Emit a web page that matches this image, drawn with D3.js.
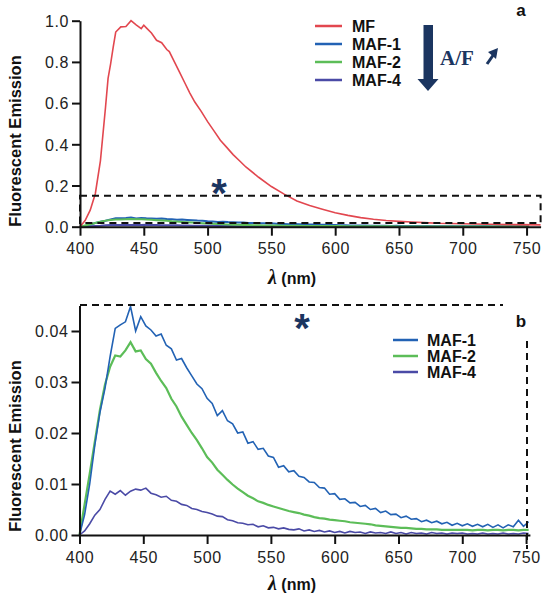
<!DOCTYPE html>
<html><head><meta charset="utf-8">
<script src="https://cdn.jsdelivr.net/npm/d3@7"></script>
<style>body{margin:0;background:#fff;} svg{display:block;}</style>
</head><body>
<script>
// ---------- DATA ----------
const mfWavelength = [400,404,408,412,416,420,422,424,426,428,432,436,440,444,448,450,452,456,460,464,468,470,474,478,482,486,490,495,500,505,510,515,520,525,530,540,550,560,570,580,590,600,610,620,630,640,650,660,670,680,700,720,740,761];
const mfValues = [0,0.03,0.08,0.16,0.32,0.58,0.72,0.79,0.87,0.945,0.97,0.972,1.0,0.98,0.962,0.978,0.965,0.94,0.905,0.893,0.86,0.85,0.8,0.75,0.70,0.65,0.605,0.56,0.51,0.465,0.42,0.385,0.35,0.32,0.29,0.24,0.195,0.158,0.125,0.103,0.085,0.068,0.055,0.044,0.036,0.030,0.026,0.023,0.020,0.017,0.014,0.012,0.010,0.009];

const mafWavelength = [400,404,408,412,416,420,424,428,432,436,440,444,448,452,456,460,464,468,472,476,480,484,488,492,496,500,504,508,512,516,520,524,528,532,536,540,544,548,552,556,560,564,568,572,576,580,584,588,592,596,600,604,608,612,616,620,624,628,632,636,640,644,648,652,656,660,664,668,672,676,680,684,688,692,696,700,704,708,712,716,720,724,728,732,736,740,744,748,752];
const maf1Values = [0.000,0.004,0.010,0.0176,0.024,0.0288,0.0350,0.0405,0.0412,0.0418,0.0448,0.0400,0.0428,0.0410,0.0402,0.0390,0.0394,0.0372,0.0365,0.0343,0.0346,0.0328,0.0312,0.0296,0.0287,0.0268,0.0258,0.0234,0.0244,0.0224,0.0218,0.0200,0.0202,0.0180,0.0183,0.0168,0.0170,0.0155,0.0152,0.0133,0.0136,0.0124,0.0126,0.0115,0.0113,0.0104,0.0103,0.0093,0.0092,0.0080,0.0081,0.0070,0.0071,0.0063,0.0064,0.0056,0.0058,0.0050,0.0052,0.0044,0.0047,0.0040,0.0041,0.0034,0.0037,0.0031,0.0032,0.0026,0.0029,0.0024,0.0027,0.0022,0.0025,0.0019,0.0023,0.0018,0.0022,0.0017,0.0021,0.0016,0.0021,0.0015,0.0020,0.0014,0.0020,0.0016,0.0029,0.0017,0.0026];
const maf2Values = [0.000,0.006,0.012,0.0183,0.0245,0.0295,0.0330,0.0352,0.0350,0.0362,0.0378,0.0360,0.0362,0.0345,0.0336,0.0318,0.0302,0.0288,0.0267,0.0252,0.0232,0.0216,0.0200,0.0186,0.0170,0.0153,0.0142,0.0128,0.0118,0.0108,0.0099,0.0091,0.0084,0.0077,0.0072,0.0066,0.0063,0.0059,0.0056,0.0053,0.0050,0.0047,0.0045,0.0043,0.0040,0.0038,0.0035,0.0033,0.0032,0.0030,0.0029,0.0028,0.0027,0.0025,0.0024,0.0023,0.0022,0.0021,0.0019,0.0018,0.0017,0.0016,0.0015,0.0014,0.0014,0.0013,0.0012,0.0012,0.0011,0.0011,0.0011,0.0010,0.0010,0.0010,0.0010,0.0010,0.0010,0.0009,0.0010,0.0010,0.0009,0.0010,0.0010,0.0009,0.0010,0.0010,0.0009,0.0010,0.0010];
const maf4Values = [0.0000,0.0008,0.0022,0.0039,0.0050,0.0070,0.0086,0.0080,0.0087,0.0078,0.0086,0.0090,0.0088,0.0092,0.0082,0.0079,0.0074,0.0076,0.0068,0.0066,0.0060,0.0058,0.0052,0.0050,0.0046,0.0044,0.0041,0.0037,0.0036,0.0030,0.0028,0.0024,0.0023,0.0020,0.0021,0.0016,0.0018,0.0014,0.0015,0.0012,0.0014,0.0011,0.0010,0.0012,0.0008,0.0010,0.0007,0.0009,0.0006,0.0008,0.0005,0.0007,0.0004,0.0007,0.0005,0.0006,0.0003,0.0006,0.0004,0.0005,0.0003,0.0006,0.0003,0.0005,0.0002,0.0005,0.0003,0.0004,0.0002,0.0005,0.0003,0.0004,0.0002,0.0004,0.0003,0.0004,0.0002,0.0003,0.0002,0.0004,0.0002,0.0003,0.0002,0.0004,0.0002,0.0003,0.0002,0.0004,0.0003];

const xTicks = [400,450,500,550,600,650,700,750];
const yTicksA = [0,0.2,0.4,0.6,0.8,1.0];
const yTicksB = [0,0.01,0.02,0.03,0.04];
const legendA = ["MF","MAF-1","MAF-2","MAF-4"];
const legendB = ["MAF-1","MAF-2","MAF-4"];
const colors = {"MF":"#e2474f","MAF-1":"#2262b4","MAF-2":"#5cbd58","MAF-4":"#4a4aa6"};
const navy = "#1b3560";

// ---------- DRAW ----------
const svg = d3.select("body").append("svg").attr("width",546).attr("height",600);
const FONT = "'Liberation Sans', Arial, sans-serif";

function series(wl, vals){ return wl.map((w,i)=>[w, vals[i]]); }

function drawAxes(g, x, y, yTicks, fmt, xAxisY, tickBaseline){
  const xa = g.append("g").attr("transform",`translate(0,${xAxisY})`)
    .call(d3.axisBottom(x).tickValues(xTicks).tickSize(9).tickSizeOuter(0).tickPadding(4));
  const ya = g.append("g").attr("transform",`translate(${x.range()[0]},0)`)
    .call(d3.axisLeft(y).tickValues(yTicks).tickFormat(d3.format(fmt)).tickSize(8).tickSizeOuter(0).tickPadding(3));
  [xa,ya].forEach(a=>{
    a.select(".domain").attr("stroke","#111").attr("stroke-width",2);
    a.selectAll(".tick line").attr("stroke","#111").attr("stroke-width",2);
    a.selectAll(".tick text").attr("fill","#222").style("font-family",FONT).style("font-size","16px").style("letter-spacing","0.6px");
  });
  xa.selectAll(".tick text").attr("dy",null).attr("y", tickBaseline - xAxisY);
  ya.selectAll(".tick text").attr("dy","0.36em");
}

function lambdaLabel(cx, baseline){
  const t = svg.append("text").attr("x",cx).attr("y",baseline).attr("text-anchor","middle").attr("fill","#111");
  t.append("tspan").text("λ").style("font-family","'Liberation Serif', serif").style("font-style","italic").style("font-weight","bold").style("font-size","20px");
  t.append("tspan").text(" (nm)").style("font-family",FONT).style("font-weight","bold").style("font-size","16px");
}
function yLabel(cx, cy){
  svg.append("text").attr("transform",`translate(${cx},${cy}) rotate(-90)`)
    .attr("text-anchor","middle").attr("dy","0.35em")
    .style("font-family",FONT).style("font-weight","bold").style("font-size","16.5px").attr("fill","#111")
    .text("Fluorescent Emission");
}

// Panel A
const xA = d3.scaleLinear().domain([400,761]).range([80,540.6]);
const yA = d3.scaleLinear().domain([0,1]).range([226.7,20.7]);
const gA = svg.append("g");
const lineA = d3.line().x(d=>xA(d[0])).y(d=>yA(d[1]));
[["MAF-4",maf4Values],["MAF-1",maf1Values],["MAF-2",maf2Values]].forEach(([k,v])=>{
  gA.append("path").datum(series(mafWavelength,v)).attr("d",lineA).attr("fill","none").attr("stroke",colors[k]).attr("stroke-width",2);
});
gA.append("path").datum(series(mfWavelength,mfValues)).attr("d",lineA).attr("fill","none").attr("stroke",colors["MF"]).attr("stroke-width",1.6);
drawAxes(gA, xA, yA, yTicksA, ".1f", 226.7, 254);
// dashed box A
const dash = "7,5";
gA.append("rect").attr("x",xA(400)).attr("y",yA(0.15)).attr("width",xA(761)-xA(400)).attr("height",yA(0.018)-yA(0.15))
  .attr("fill","none").attr("stroke","#111").attr("stroke-width",2).attr("stroke-dasharray",dash);
yLabel(15, 141);
lambdaLabel(292, 284);
// legend A
legendA.forEach((k,i)=>{
  const yy = 26 + i*18;
  svg.append("line").attr("x1",315).attr("x2",342).attr("y1",yy).attr("y2",yy).attr("stroke",colors[k]).attr("stroke-width",2.5);
  svg.append("text").attr("x",352).attr("y",yy+5.5).text(k).style("font-family",FONT).style("font-weight","bold").style("font-size","16px").attr("fill","#111");
});
// arrow
svg.append("rect").attr("x",423.5).attr("y",25).attr("width",9.5).attr("height",56).attr("fill",navy);
svg.append("path").attr("d","M417.5,79 L438.5,79 L428,91 Z").attr("fill",navy);
svg.append("text").attr("x",440).attr("y",65).text("A/F").style("font-family","'Liberation Serif', serif").style("font-weight","bold").style("font-size","21px").attr("fill",navy);
svg.append("path").attr("d","M487,64 L494,54").attr("stroke",navy).attr("stroke-width",3);
svg.append("path").attr("d","M488,52 L498,48 L496,59 Z").attr("fill",navy);
svg.append("text").attr("x",521).attr("y",16).attr("text-anchor","middle").text("a").style("font-family",FONT).style("font-weight","bold").style("font-size","17px").attr("fill","#111");
svg.append("text").attr("x",219).attr("y",207).attr("text-anchor","middle").text("*").style("font-family",FONT).style("font-weight","bold").style("font-size","40px").attr("fill",navy);

// Panel B
const xB = d3.scaleLinear().domain([400,753]).range([79.5,529.9]);
const yB = d3.scaleLinear().domain([0,0.045]).range([535,305.5]);
const gB = svg.append("g");
const lineB = d3.line().x(d=>xB(d[0])).y(d=>yB(d[1]));
[["MAF-4",maf4Values],["MAF-2",maf2Values],["MAF-1",maf1Values]].forEach(([k,v])=>{
  gB.append("path").datum(series(mafWavelength,v)).attr("d",lineB).attr("fill","none").attr("stroke",colors[k]).attr("stroke-width",k==="MAF-2"?2.2:1.6);
});
drawAxes(gB, xB, yB, yTicksB, ".2f", 535, 563);
gB.append("line").attr("x1",80).attr("x2",503).attr("y1",305).attr("y2",305).attr("stroke","#111").attr("stroke-width",2).attr("stroke-dasharray",dash);
gB.append("line").attr("x1",527).attr("x2",527).attr("y1",341).attr("y2",549).attr("stroke","#111").attr("stroke-width",2).attr("stroke-dasharray",dash);
yLabel(15, 446);
lambdaLabel(292, 590);
legendB.forEach((k,i)=>{
  const yy = 340 + i*16;
  svg.append("line").attr("x1",393).attr("x2",418).attr("y1",yy).attr("y2",yy).attr("stroke",colors[k]).attr("stroke-width",2.5);
  svg.append("text").attr("x",427).attr("y",yy+5.5).text(k).style("font-family",FONT).style("font-weight","bold").style("font-size","16px").attr("fill","#111");
});
svg.append("text").attr("x",521).attr("y",327).attr("text-anchor","middle").text("b").style("font-family",FONT).style("font-weight","bold").style("font-size","17px").attr("fill","#111");
svg.append("text").attr("x",302).attr("y",342).attr("text-anchor","middle").text("*").style("font-family",FONT).style("font-weight","bold").style("font-size","40px").attr("fill",navy);
</script>
</body></html>
